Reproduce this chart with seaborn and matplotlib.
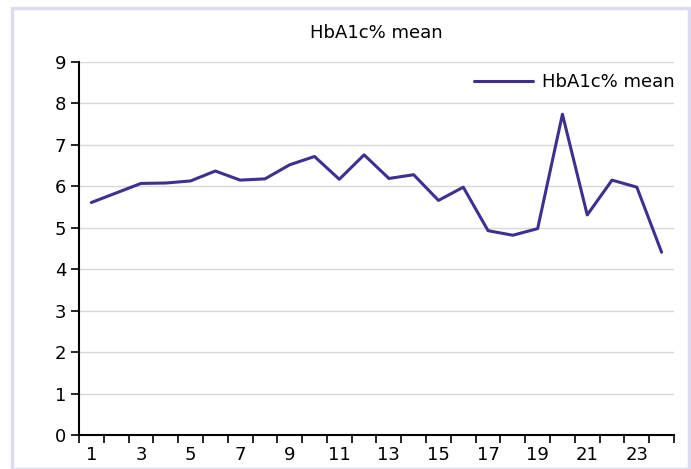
import numpy as np
import pandas as pd
import seaborn as sns
import matplotlib.pyplot as plt
from matplotlib.patches import Rectangle
from matplotlib.ticker import MultipleLocator

months = list(range(1, 25))
hba1c_mean = [5.61, 5.84, 6.07, 6.08, 6.13, 6.37, 6.15, 6.18, 6.52, 6.72,
              6.17, 6.76, 6.19, 6.28, 5.66, 5.98, 4.93, 4.82, 4.98, 7.74,
              5.31, 6.15, 5.98, 4.41]
series_name = "HbA1c% mean"

df = pd.DataFrame({"month": months, "value": hba1c_mean})

sns.set_style("white", {"xtick.bottom": True, "ytick.left": True,
                        "text.color": "black", "xtick.color": "black",
                        "ytick.color": "black"})
plt.rcParams["font.family"] = ["DejaVu Sans"]

line_color = "#3d3090"

fig = plt.figure(figsize=(6.91, 4.69), dpi=100)
ax = fig.add_axes([0.1143, 0.0725, 0.9754 - 0.1143, 0.8678 - 0.0725])

sns.lineplot(data=df, x="month", y="value", ax=ax, color=line_color,
             linewidth=2.2, label=series_name)

ax.set_xlim(0.5, 24.5)
ax.set_ylim(0, 9)
ax.yaxis.set_major_locator(MultipleLocator(1))
ax.grid(axis="y", color="#d9d9d9", linewidth=1)
ax.set_axisbelow(True)

# labels on odd months, ticks on category boundaries
ax.set_xticks(months[::2])
ax.set_xticklabels([str(m) for m in months[::2]])
ax.set_xticks(np.arange(0.5, 25, 1), minor=True)
ax.tick_params(axis="x", which="major", bottom=False, length=0, labelsize=13, pad=8)
ax.tick_params(axis="x", which="minor", bottom=True, length=6, width=1.2,
               color="black", direction="out")
ax.tick_params(axis="y", which="major", left=True, length=6, width=1.2, color="black",
               direction="out", labelsize=13, pad=3)

for side in ["top", "right"]:
    ax.spines[side].set_visible(False)
for side in ["left", "bottom"]:
    ax.spines[side].set_color("black")
    ax.spines[side].set_linewidth(1.5)

ax.set_xlabel("")
ax.set_ylabel("")
fig.text(0.545, 0.93, series_name, ha="center", va="center", fontsize=13,
         color="black")

leg = ax.legend(loc="upper right", frameon=False, fontsize=13, handlelength=3.3,
                handletextpad=0.5, bbox_to_anchor=(1.02, 1.0), borderaxespad=0.2)
for t in leg.get_texts():
    t.set_color("black")

fig.patches.append(Rectangle((11.5 / 691, 0), (689 - 11.5) / 691, (469 - 8.5) / 469,
                             transform=fig.transFigure, fill=False,
                             edgecolor="#dcdcf0", linewidth=2.5))

fig.savefig("out.png", dpi=100)
